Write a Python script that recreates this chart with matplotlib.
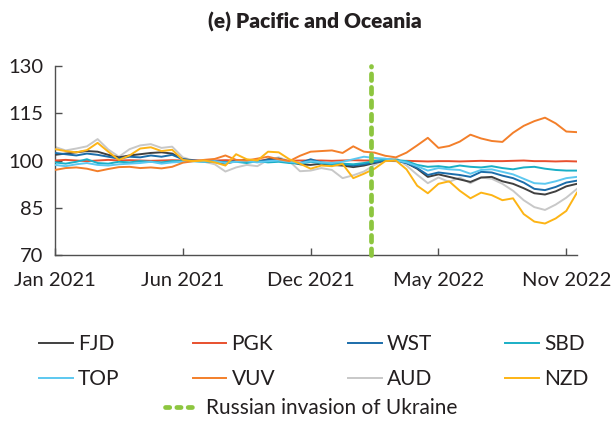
import numpy as np
import matplotlib
matplotlib.use("Agg")
import matplotlib.pyplot as plt
from matplotlib.lines import Line2D

plt.rcParams['font.family'] = ['Lato', 'DejaVu Sans']

# ---- data (index values, roughly biweekly samples Jan 2021 - Nov 2022) ----
tick_labels = ["Jan 2021", "Jun 2021", "Dec 2021", "May 2022", "Nov 2022"]
tick_index = [0, 12, 24, 36, 48]
invasion_index = 29.7

FJD = [101.8, 102.2, 102.6, 103.0, 102.8, 101.8, 101.0, 101.6, 102.0, 102.4,
       102.6, 102.2, 100.4, 100.0, 99.8, 99.6, 99.0, 99.8, 100.2, 99.6,
       100.4, 100.6, 99.6, 98.8, 98.6, 99.0, 98.6, 98.4, 97.9, 98.4,
       99.2, 100.0, 100.2, 99.2, 97.4, 94.8, 95.6, 94.8, 94.0, 93.2,
       94.6, 94.8, 93.4, 92.6, 91.2, 89.6, 89.2, 90.2, 91.8, 92.6]
PGK = [100.0, 100.2, 100.0, 99.8, 100.0, 100.2, 100.0, 100.1, 100.0, 99.9,
       100.0, 100.1, 100.0, 100.0, 99.9, 100.0, 100.1, 100.0, 99.9, 100.0,
       100.0, 100.1, 99.9, 100.0, 100.0, 100.0, 99.9, 100.0, 100.1, 100.0,
       100.0, 99.9, 99.8, 99.9, 99.8, 99.7, 99.8, 99.8, 99.7, 99.8,
       99.9, 99.8, 99.8, 99.9, 100.0, 99.8, 99.8, 99.7, 99.8, 99.7]
WST = [102.4, 102.0, 101.6, 102.2, 101.8, 101.2, 100.6, 101.2, 101.0, 101.6,
       101.2, 101.8, 100.4, 100.0, 99.8, 99.8, 99.4, 99.8, 100.0, 99.6,
       100.2, 100.0, 99.4, 99.2, 100.4, 99.4, 99.0, 98.8, 98.4, 98.8,
       99.4, 100.0, 100.0, 99.2, 97.6, 95.4, 96.2, 95.8, 95.4, 94.8,
       96.4, 96.2, 95.2, 94.4, 93.0, 91.0, 90.6, 91.6, 93.0, 93.6]
SBD = [99.4, 99.0, 99.6, 100.4, 99.2, 99.0, 99.6, 99.4, 99.8, 99.6,
       99.4, 99.8, 99.8, 99.8, 99.6, 99.5, 99.4, 99.6, 99.2, 99.8,
       99.4, 99.6, 99.2, 99.0, 99.6, 99.2, 98.8, 99.0, 98.8, 99.2,
       99.8, 100.4, 100.2, 99.8, 98.6, 98.0, 98.2, 97.8, 98.4, 98.0,
       97.8, 98.2, 97.6, 97.2, 97.8, 98.0, 97.4, 97.0, 96.8, 96.8]
TOP = [98.6, 98.2, 98.8, 99.2, 98.6, 98.4, 98.8, 99.0, 99.2, 99.6,
       99.0, 99.4, 99.6, 99.8, 99.6, 99.8, 99.2, 99.6, 99.8, 99.4,
       99.8, 100.0, 99.6, 99.2, 99.8, 99.4, 99.2, 99.6, 100.4, 101.2,
       100.8, 100.6, 100.0, 99.4, 98.2, 96.8, 97.6, 97.2, 97.0, 95.8,
       97.0, 97.2, 96.4, 95.6, 94.2, 92.8, 92.6, 93.4, 94.4, 94.8]
VUV = [97.0, 97.6, 97.8, 97.4, 96.6, 97.3, 97.9, 98.0, 97.6, 97.8,
       97.5, 98.0, 99.3, 99.8, 100.2, 100.5, 101.6, 100.2, 100.0, 100.6,
       101.2, 100.4, 99.8, 101.5, 102.8, 103.0, 103.2, 102.4, 104.5, 102.8,
       102.5, 101.5, 101.0, 102.5, 104.8, 107.2, 104.0, 104.6, 106.0, 108.2,
       107.0, 106.2, 105.9, 108.8, 111.0, 112.5, 113.6, 111.8, 109.2, 109.0]
AUD = [104.3, 103.2, 103.8, 104.5, 106.8, 103.5, 101.2, 103.6, 104.8, 105.2,
       104.0, 104.4, 101.0, 100.0, 99.6, 98.8, 96.5, 97.8, 98.6, 98.2,
       100.2, 101.0, 99.8, 96.6, 96.8, 97.6, 97.0, 94.4, 95.3, 96.5,
       98.6, 100.2, 100.8, 98.4, 95.5, 92.8, 94.6, 93.2, 94.6, 92.8,
       94.6, 94.2, 92.6, 90.4, 87.4, 85.2, 84.3, 86.0, 88.2, 91.0]
NZD = [103.6, 103.0, 102.6, 103.3, 105.6, 102.8, 100.2, 101.6, 103.8, 104.2,
       103.0, 103.4, 100.2, 99.8, 100.0, 99.4, 98.4, 102.0, 100.4, 100.0,
       102.8, 102.6, 100.4, 99.0, 97.4, 98.4, 98.2, 98.9, 94.4, 95.8,
       97.4, 99.8, 100.0, 97.2, 92.0, 89.6, 92.6, 93.4, 90.4, 88.0,
       89.8, 89.0, 87.4, 88.0, 83.0, 80.6, 80.0, 81.6, 84.0, 89.8]

series_names = ["FJD", "PGK", "WST", "SBD", "TOP", "VUV", "AUD", "NZD"]
series_values = [FJD, PGK, WST, SBD, TOP, VUV, AUD, NZD]
colors = ["#404040", "#E8502E", "#1B6DAA", "#1AAFC6", "#5CC8F0",
          "#F37F2A", "#C8C8C8", "#FDB415"]
green = "#8DC63F"

fig = plt.figure(figsize=(6.13, 4.21), dpi=100)
ax = fig.add_axes([0.0897, 0.3943, 0.8515, 0.4489])

x = np.arange(len(FJD))
order = ["AUD", "FJD", "PGK", "WST", "SBD", "TOP", "VUV", "NZD"]
handles = {}
for name, vals, c in zip(series_names, series_values, colors):
    z = order.index(name) + 2
    ln, = ax.plot(x, vals, color=c, lw=1.4, zorder=z)
    handles[name] = ln

dash = (0, (1.4, 1.45))
ax.axvline(invasion_index, color=green, lw=3.4, linestyle=dash,
           dash_capstyle='round', zorder=20, clip_on=False)

ax.set_xlim(0, len(FJD) - 1)
ax.set_ylim(70, 130)
ax.set_yticks([70, 85, 100, 115, 130])
ax.set_xticks(tick_index)
ax.set_xticklabels(tick_labels)
for s in ["top", "right"]:
    ax.spines[s].set_visible(False)
for s in ["left", "bottom"]:
    ax.spines[s].set_color("#505050")
    ax.spines[s].set_linewidth(1.0)
ax.tick_params(axis='both', direction='in', length=5, width=1.0,
               color="#505050", labelsize=14.5, labelcolor="#231F20")
ax.tick_params(axis='y', pad=8.5)
ax.tick_params(axis='x', pad=12)

fig.text(0.513, 0.948, "(e) Pacific and Oceania", ha='center', va='center',
         fontsize=15, fontweight='heavy', color="#231F20")

# legend filled column-wise by matplotlib, so order for row-major reading
rows = [["FJD", "PGK", "WST", "SBD"], ["TOP", "VUV", "AUD", "NZD"]]
leg_names = [rows[r][c] for c in range(4) for r in range(2)]
leg1 = fig.legend([handles[n] for n in leg_names], leg_names, ncol=4,
                  loc='center', bbox_to_anchor=(0.512, 0.1413), frameon=False,
                  fontsize=15, handlelength=1.63, handletextpad=0.24,
                  columnspacing=3.5, labelspacing=0.74, labelcolor="#231F20")
inv_handle = Line2D([], [], color=green, lw=3.4, linestyle=(0, (0.9, 1.5)),
                    dash_capstyle='round')
leg2 = fig.legend([inv_handle], ["Russian invasion of Ukraine"], loc='center',
                  bbox_to_anchor=(0.508, 0.031), frameon=False, fontsize=15,
                  handlelength=1.63, handletextpad=0.35, labelcolor="#231F20",
                  borderpad=0.1)

fig.savefig("out.png", dpi=100)
